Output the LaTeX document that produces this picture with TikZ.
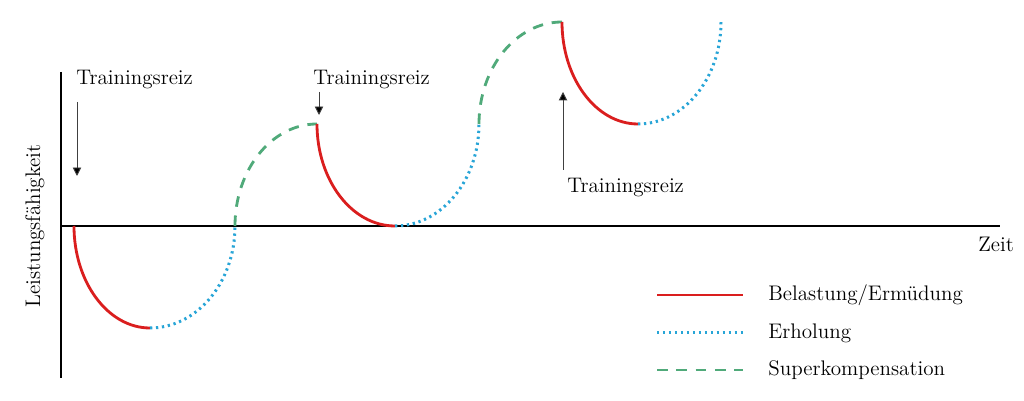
\documentclass[tikz,border=0pt]{standalone}
\usepackage{tikz}
\usetikzlibrary{arrows.meta}

\definecolor{belastungrot}{RGB}{218,30,30}
\definecolor{erholungblau}{RGB}{40,165,215}
\definecolor{superkompgruen}{RGB}{80,170,122}

\tikzset{
	belastung/.style={draw=belastungrot, line width=1.6pt},
	erholung/.style={draw=erholungblau, line width=1.7pt, dash pattern=on 1.3pt off 2.1pt},
	superkomp/.style={draw=superkompgruen, line width=1.6pt, dash pattern=on 6pt off 5pt},
	achse/.style={draw=black, line width=0.8pt},
	reiz/.style={draw=black!75, line width=0.5pt, -{Triangle[length=4.8pt,width=4.8pt,fill=black]}},
	beschriftung/.style={inner sep=0pt, font=\fontsize{12}{14.4}\selectfont}
}

\begin{document}
\begin{tikzpicture}[x=0.02cm, y=0.02cm] % Superkompensation
	\useasboundingbox (0,0) rectangle (1024,401);

	% Achsen
	\coordinate (ursprung) at (61,175);
	\coordinate (yoben) at (61,329);
	\coordinate (yunten) at (61,23);
	\coordinate (xende) at (1000,175);
	\draw[achse] (yoben) -- (yunten);
	\draw[achse] (ursprung) -- (xende);
	\node[beschriftung, anchor=base west] (zeit) at (978,149) {Zeit};
	\node[beschriftung, anchor=base, rotate=90] (leistung) at (40,175) {Leistungsf\"ahigkeit};

	% Verlauf
	\draw[belastung] (74,175) arc[start angle=180, end angle=270, x radius=76, y radius=102];
	\draw[erholung] (150,73) arc[start angle=270, end angle=360, x radius=85, y radius=102];
	\draw[superkomp] (235,175) arc[start angle=180, end angle=90, x radius=82, y radius=102];

	\draw[belastung] (317,277) arc[start angle=180, end angle=270, x radius=78, y radius=102];
	\draw[erholung] (395,175) arc[start angle=270, end angle=360, x radius=84, y radius=102];
	\draw[superkomp] (479,277) arc[start angle=180, end angle=90, x radius=83, y radius=102];

	\draw[belastung] (562,379) arc[start angle=180, end angle=270, x radius=76, y radius=102];
	\draw[erholung] (638,277) arc[start angle=270, end angle=360, x radius=83, y radius=102];

	% Trainingsreize
	\node[beschriftung, anchor=base west] (reiz1) at (76,316) {Trainingsreiz};
	\coordinate (reiz1a) at (77,299);
	\coordinate (reiz1b) at (77,225);
	\draw[reiz] (reiz1a) -- (reiz1b);

	\node[beschriftung, anchor=base west] (reiz2) at (313,316) {Trainingsreiz};
	\coordinate (reiz2a) at (319,309);
	\coordinate (reiz2b) at (319,286);
	\draw[reiz] (reiz2a) -- (reiz2b);

	\node[beschriftung, anchor=base west] (reiz3) at (567,208) {Trainingsreiz};
	\coordinate (reiz3a) at (563,231);
	\coordinate (reiz3b) at (563,309);
	\draw[reiz] (reiz3a) -- (reiz3b);

	% Legende
	\draw[belastung] (657,106) -- (743,106);
	\node[beschriftung, anchor=west] (leg1) at (768,106) {Belastung/Erm\"udung};
	\draw[erholung] (657,68) -- (743,68);
	\node[beschriftung, anchor=west] (leg2) at (768,68) {Erholung};
	\draw[superkomp] (657,31) -- (743,31);
	\node[beschriftung, anchor=west] (leg3) at (768,31) {Superkompensation};
\end{tikzpicture}
\end{document}
